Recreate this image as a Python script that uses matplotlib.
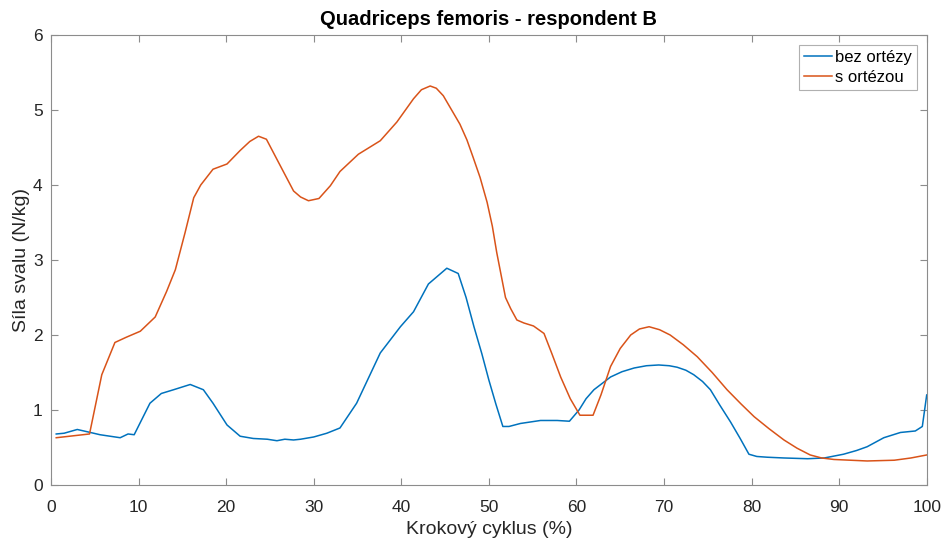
import matplotlib
matplotlib.use("Agg")
import matplotlib.pyplot as plt

plt.rcParams['font.family'] = ['Liberation Sans', 'DejaVu Sans']

# bez ortézy (blue)
x_bez = [0.6, 1.5, 3.0, 4.5, 5.6, 7.9, 8.8, 9.5, 11.3, 12.6, 14.0, 15.9, 17.4, 18.5, 20.1,
         21.6, 23.1, 24.7, 25.8, 26.7, 27.7, 28.5, 30.0, 31.5, 33.0, 34.9, 37.6, 39.9, 41.4,
         43.1, 45.2, 46.5, 47.4, 48.3, 49.2, 50.0, 50.8, 51.6, 52.3, 53.6, 55.9, 57.8, 59.2,
         60.3, 61.1, 62.0, 63.9, 65.2, 66.6, 68.0, 69.4, 70.6, 71.5, 72.5, 73.4, 74.4, 75.3,
         76.4, 77.6, 78.7, 79.7, 80.6, 81.8, 83.7, 86.4, 88.3, 90.5, 92.0, 93.2, 95.1,
         97.0, 98.7, 99.5, 100.0]
y_bez = [0.68, 0.69, 0.74, 0.70, 0.67, 0.63, 0.68, 0.67, 1.09, 1.22, 1.27, 1.34, 1.27, 1.09, 0.80,
         0.65, 0.62, 0.61, 0.59, 0.61, 0.60, 0.61, 0.64, 0.69, 0.76, 1.09, 1.76, 2.11, 2.31,
         2.68, 2.89, 2.82, 2.50, 2.11, 1.75, 1.40, 1.08, 0.78, 0.78, 0.82, 0.86, 0.86, 0.85,
         1.00, 1.15, 1.27, 1.44, 1.51, 1.56, 1.59, 1.60, 1.59, 1.57, 1.53, 1.47, 1.38, 1.27,
         1.06, 0.84, 0.62, 0.41, 0.38, 0.37, 0.36, 0.35, 0.36, 0.41, 0.46, 0.51, 0.63,
         0.70, 0.72, 0.78, 1.20]

# s ortézou (orange)
x_s = [0.6, 4.4, 5.8, 7.3, 8.6, 10.2, 11.9, 13.2, 14.2, 15.3, 16.3, 17.1, 18.5, 20.1, 21.6,
       22.7, 23.7, 24.6, 25.9, 26.8, 27.7, 28.5, 29.4, 30.6, 31.9, 33.0, 35.1, 37.6, 39.5,
       41.4, 42.3, 43.3, 44.0, 44.8, 46.7, 47.5, 48.2, 49.0, 49.8, 50.4, 50.9, 51.9, 52.5,
       53.2, 54.0, 55.1, 56.3, 57.2, 58.2, 59.3, 60.4, 61.9, 62.8, 63.9, 65.0, 66.2, 67.2,
       68.3, 69.5, 70.7, 72.2, 73.8, 75.5, 77.2, 78.8, 80.3, 82.0, 83.7, 85.2, 86.7, 88.0,
       89.4, 91.3, 93.2, 96.3, 98.2, 100.0]
y_s = [0.63, 0.68, 1.47, 1.90, 1.97, 2.05, 2.24, 2.58, 2.87, 3.36, 3.83, 4.00, 4.21, 4.28, 4.46,
       4.58, 4.65, 4.61, 4.32, 4.12, 3.92, 3.84, 3.79, 3.82, 3.99, 4.18, 4.41, 4.59, 4.84,
       5.15, 5.27, 5.32, 5.29, 5.19, 4.81, 4.60, 4.37, 4.10, 3.77, 3.45, 3.10, 2.50, 2.35,
       2.20, 2.16, 2.12, 2.02, 1.75, 1.44, 1.15, 0.93, 0.93, 1.20, 1.58, 1.82, 2.00, 2.08,
       2.11, 2.07, 2.00, 1.87, 1.71, 1.50, 1.27, 1.08, 0.91, 0.75, 0.60, 0.49, 0.40, 0.36,
       0.34, 0.33, 0.32, 0.33, 0.36, 0.40]

xticks = [0, 10, 20, 30, 40, 50, 60, 70, 80, 90, 100]
yticks = [0, 1, 2, 3, 4, 5, 6]

fig = plt.figure(figsize=(9.46, 5.4), dpi=100)
ax = fig.add_axes([0.0539, 0.1019, 0.9257, 0.8333])
ax.plot(x_bez, y_bez, color='#0072BD', lw=1.1, label='bez ortézy')
ax.plot(x_s, y_s, color='#D95319', lw=1.1, label='s ortézou')
ax.set_xlim(0, 100)
ax.set_ylim(0, 6)
ax.set_xticks(xticks)
ax.set_yticks(yticks)
axcol = '#262626'
for s in ax.spines.values():
    s.set_color('#8c8c8c')
    s.set_linewidth(0.8)
ax.tick_params(direction='in', top=True, right=True, length=5, width=0.8,
               colors='#8c8c8c', labelcolor=axcol, labelsize=12.5)
ax.tick_params(axis='x', pad=11)
ax.tick_params(axis='y', pad=6)
ax.set_xlabel('Krokový cyklus (%)', fontsize=14, color=axcol, labelpad=4)
ax.set_ylabel('Síla svalu (N/kg)', fontsize=14, color=axcol, labelpad=2)
ax.set_title('Quadriceps femoris - respondent B', fontsize=14.5, fontweight='bold',
             color='black', pad=7)
leg = ax.legend(loc='upper right', fontsize=12, frameon=True, fancybox=False,
                edgecolor='#b0b0b0', framealpha=1, handlelength=1.7, handletextpad=0.15,
                borderpad=0.3, labelspacing=0.3, borderaxespad=0.6)
leg.get_frame().set_linewidth(0.8)
fig.savefig('out.png', dpi=100)
